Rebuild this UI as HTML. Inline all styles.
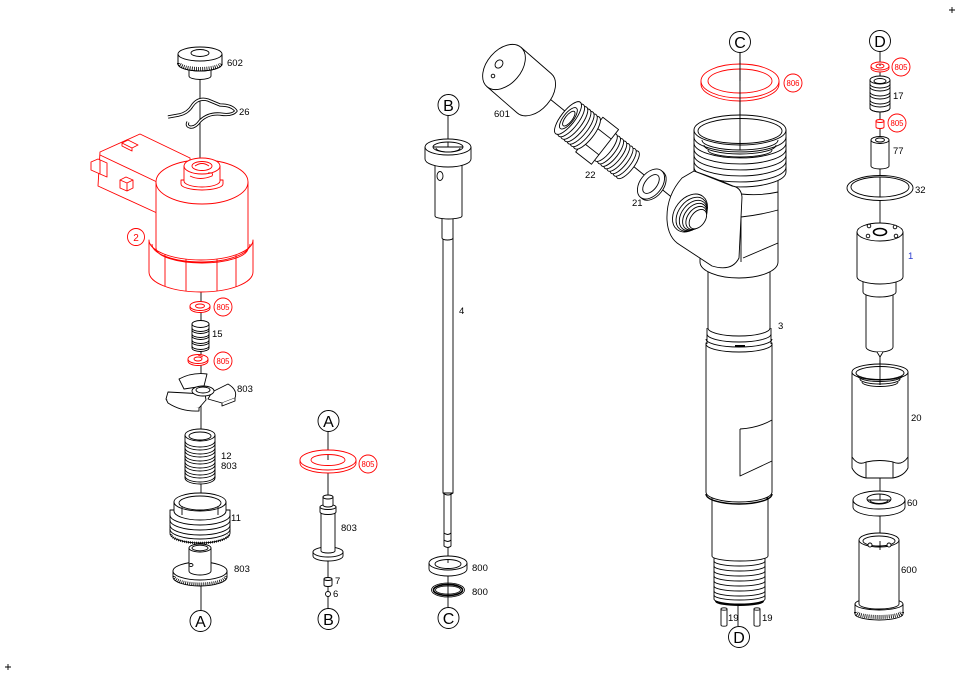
<!DOCTYPE html>
<html><head><meta charset="utf-8"><title>Injector exploded view</title>
<style>
html,body{margin:0;padding:0;background:#fff;width:960px;height:678px;overflow:hidden}
svg{display:block}
text{font-family:"Liberation Sans",Arial,sans-serif;font-size:9.5px;fill:#000;stroke:none}
.L{font-size:16px;text-anchor:middle}
.rc{font-size:8.5px;fill:#f00;text-anchor:middle}
</style></head><body>
<svg width="960" height="678" viewBox="0 0 960 678" xmlns="http://www.w3.org/2000/svg">
<g fill="none" stroke="#000" stroke-width="0.9" stroke-linejoin="round">

<!-- corner marks -->
<path d="M949,10 H955 M952,7 V13 M5,667 H11 M8,664 V670"/>

<!-- axis lines -->
<path d="M200,76 V170 M201,290 V610 M328,432 V609 M448,116 V150 M448,540 V607 M740,53 V135 M738,600 V626 M880,52 V375 M880,470 V560 M545,95 L690,212"/>

<!-- ================= COLUMN 1 ================= -->
<!-- 602 knob -->
<path d="M189,68 V76 A11,3.5 0 0 0 211,76 V68 Z" fill="#fff"/>
<path d="M178,54 V64 A22,7 0 0 0 222,64 V54 Z" fill="#fff"/>
<path d="M179,63 A21,6 0 0 0 221,63" stroke-width="4" stroke-dasharray="0.8 1.3"/>
<path d="M178,54 V64 A22,7 0 0 0 222,64 V54"/>
<ellipse cx="200" cy="54" rx="22" ry="7" fill="#fff"/>
<ellipse cx="200" cy="53" rx="9" ry="3.5"/>

<!-- 26 clip -->
<path d="M168,117 L179,115 Q188,113 192,106 Q198,97 208,100 L220,105 Q232,105 236,111 Q232,116 220,114 Q208,113 200,121 Q195,128 190,127 Q186,126 188,122" stroke-width="3.2"/>
<path d="M168,117 L179,115 Q188,113 192,106 Q198,97 208,100 L220,105 Q232,105 236,111 Q232,116 220,114 Q208,113 200,121 Q195,128 190,127 Q186,126 188,122" stroke="#fff" stroke-width="1.4"/>

<!-- solenoid (red) -->
<g stroke="#f00" fill="#fff">
  <path d="M100,152 L140,134 L190,158 L190,200 L157,213 L98,186 Z"/>
  <path d="M100,155 L157,182" fill="none"/>
  <path d="M91,162 L98,159 L107,163 L107,177 L100,174 L91,170 Z"/>
  <path d="M100,174 V160" fill="none"/>
  <path d="M122,143 L128,140 L138,145 L132,148 Z M122,143 V146 L132,151 V148" />
  <path d="M120,180 L126,177 L133,180 L133,188 L127,191 L120,188 Z M120,180 L127,183 L133,180 M127,183 V191"/>
  <!-- cylinder -->
  <path d="M156,182 V250 A46,16 0 0 0 248,250 V182 Z"/>
  <ellipse cx="202" cy="182" rx="46" ry="22"/>
  <!-- nut -->
  <path d="M149,240 A52,20 0 0 0 253,240 V272 A52,20 0 0 1 149,272 Z"/>
  <path d="M152,244 A49,18 0 0 0 250,244 M156,248 A46,15 0 0 0 248,248" fill="none"/>
  <path d="M165,254 V286 M186,259 V291 M217,259 V291 M236,255 V287" fill="none"/>
  <!-- boss -->
  <path d="M181,180 V184 A21,6 0 0 0 223,184 V180 Z"/>
  <path d="M184,166 V181 A18,6 0 0 0 220,181 V166 Z"/>
  <ellipse cx="202" cy="166" rx="18" ry="8"/>
  <ellipse cx="202" cy="166" rx="10" ry="4.5"/>
  <path d="M195,166 Q202,161 209,166 M190,176 Q200,181 212,176 Q214,172 208,173" fill="none"/>
  <circle cx="136" cy="237" r="8.5"/>
</g>
<text x="136" y="241" class="rc" style="font-size:10px">2</text>

<!-- 805 washers -->
<g stroke="#f00">
  <path d="M190,306 V308 A10,4.5 0 0 0 210,308 V306" fill="#fff"/>
  <ellipse cx="200" cy="306" rx="10" ry="4.5" fill="#fff"/>
  <ellipse cx="200" cy="306" rx="4.5" ry="2"/>
  <circle cx="223" cy="307" r="9" fill="#fff"/>
  <path d="M188,359 V361 A10,4.5 0 0 0 208,361 V359" fill="#fff"/>
  <ellipse cx="198" cy="359" rx="10" ry="4.5" fill="#fff"/>
  <ellipse cx="198" cy="359" rx="4" ry="2"/>
  <path d="M198,355 L203,357"/>
  <circle cx="223" cy="361" r="9" fill="#fff"/>
</g>
<text x="223" y="310" class="rc" textLength="13" lengthAdjust="spacingAndGlyphs">805</text>
<text x="223" y="364" class="rc" textLength="13" lengthAdjust="spacingAndGlyphs">805</text>

<!-- spring 15 -->
<g fill="#fff">
  <path d="M192,324 V348 A8.5,3.5 0 0 0 209,348 V324 Z"/>
  <ellipse cx="200.5" cy="324" rx="8.5" ry="3.5"/>
  <path d="M192,330 A8.5,3.5 0 0 0 209,330 M192,336 A8.5,3.5 0 0 0 209,336 M192,342 A8.5,3.5 0 0 0 209,342 M192,328 A8.5,3.5 0 0 0 209,328 M192,334 A8.5,3.5 0 0 0 209,334 M192,340 A8.5,3.5 0 0 0 209,340 M192,346 A8.5,3.5 0 0 0 209,346" fill="none"/>
</g>

<!-- 803 propeller -->
<g fill="#fff">
  <path d="M184,389 L179,379 Q192,372 207,374 L204,386 Z"/>
  <path d="M212,392 L228,384 Q238,390 235,398 L222,403 L208,399 Z"/>
  <path d="M205,394 L168,392 L166,399 Q180,408 199,408 L206,400 Z"/>
  <path d="M166,399 L168,403 Q182,412 199,411 L199,408" />
  <path d="M222,403 L222,406 L235,401 V398"/>
  <ellipse cx="203" cy="391" rx="11" ry="5"/>
  <ellipse cx="203" cy="390" rx="7" ry="3"/>
</g>

<!-- spring 12 -->
<g fill="#fff">
  <path d="M185,435 V478 A15,6 0 0 0 215,478 V435 Z"/>
  <ellipse cx="200" cy="435" rx="15" ry="6"/>
  <ellipse cx="200" cy="436" rx="11" ry="4"/>
  <path d="M185,441 A15,6 0 0 0 215,441 M185,444 A15,6 0 0 0 215,444 M185,448 A15,6 0 0 0 215,448 M185,451 A15,6 0 0 0 215,451 M185,455 A15,6 0 0 0 215,455 M185,458 A15,6 0 0 0 215,458 M185,462 A15,6 0 0 0 215,462 M185,465 A15,6 0 0 0 215,465 M185,469 A15,6 0 0 0 215,469 M185,472 A15,6 0 0 0 215,472 M185,476 A15,6 0 0 0 215,476" fill="none"/>
</g>

<!-- 11 ring -->
<g fill="#fff">
  <path d="M170,510 V533 A30,10 0 0 0 230,533 V510 Z"/>
  <path d="M170,515 A30,10 0 0 0 230,515 M170,520 A30,10 0 0 0 230,520 M170,525 A30,10 0 0 0 230,525 M170,529 A30,10 0 0 0 230,529" fill="none"/>
  <path d="M171,534 A29,9 0 0 0 229,534" stroke-width="2.5" stroke-dasharray="0.8 1.2" fill="none"/>
  <path d="M174,502 V511 A26,9 0 0 0 226,511 V502 Z"/>
  <ellipse cx="200" cy="502" rx="26" ry="9"/>
  <ellipse cx="200" cy="503" rx="21" ry="7"/>
  <path d="M182,506 V515 M218,506 V515" fill="none"/>
</g>

<!-- 803 disk -->
<g fill="#fff">
  <path d="M173,571 V577 A27,9 0 0 0 227,577 V571 Z"/>
  <path d="M174,576 A26,8 0 0 0 226,576" stroke-width="3" stroke-dasharray="0.8 1.2" fill="none"/>
  <ellipse cx="200" cy="571" rx="27" ry="9"/>
  <path d="M189,548 V571 A11,4 0 0 0 211,571 V548 Z"/>
  <ellipse cx="200" cy="548" rx="11" ry="4"/>
  <ellipse cx="200" cy="548" rx="8" ry="2.8"/>
  <ellipse cx="191" cy="565" rx="2" ry="1.5"/>
</g>

<circle cx="200.5" cy="621" r="10.5" fill="#fff"/>
<text x="200.5" y="627" class="L">A</text>

<!-- ================= COLUMN 2 ================= -->
<circle cx="328.5" cy="421" r="10.5" fill="#fff"/>
<text x="328.5" y="427" class="L">A</text>
<g stroke="#f00" fill="#fff">
  <path d="M300,460 V463 A28,10 0 0 0 356,463 V460"/>
  <path fill-rule="evenodd" d="M300,460 A28,10 0 1 0 356,460 A28,10 0 1 0 300,460 Z M311,460 A17,5.5 0 1 0 345,460 A17,5.5 0 1 0 311,460 Z"/>
  <circle cx="368" cy="464" r="9"/>
</g>
<text x="368" y="467" class="rc" textLength="13" lengthAdjust="spacingAndGlyphs">805</text>
<g fill="#fff">
  <path d="M313,552 V556 A15,5 0 0 0 343,556 V552 Z"/>
  <ellipse cx="328" cy="552" rx="15" ry="5"/>
  <path d="M321,512 V551 A7,2 0 0 0 335,551 V512 Z"/>
  <path d="M320,507 V512 A8,2.5 0 0 0 336,512 V507 Z"/>
  <ellipse cx="328" cy="507" rx="8" ry="2.5"/>
  <path d="M323,497 V505 A5,2 0 0 0 333,505 V497 Z"/>
  <ellipse cx="328" cy="497" rx="5" ry="2"/>
  <path d="M324,579 V585 A4,1.5 0 0 0 332,585 V579 Z"/>
  <ellipse cx="328" cy="579" rx="4" ry="1.5"/>
  <circle cx="328" cy="594" r="2.5"/>
</g>
<circle cx="328.5" cy="619" r="10.5" fill="#fff"/>
<text x="328.5" y="625" class="L">B</text>

<!-- ================= COLUMN 3 ================= -->
<circle cx="448.5" cy="105" r="10.5" fill="#fff"/>
<text x="448.5" y="111" class="L">B</text>
<g fill="#fff">
  <path d="M443,238 V493 H453 V238 Z"/>
  <path d="M442,218 V238 A5.5,2 0 0 0 453,238 V218 Z"/>
  <path d="M435,160 V216 A13.5,3 0 0 0 462,216 V160 Z"/>
  <ellipse cx="440" cy="176" rx="3" ry="4.5"/>
  <path d="M425,147 V159 A23,8 0 0 0 471,159 V147 Z"/>
  <path fill-rule="evenodd" d="M425,147 A23,8 0 1 0 471,147 A23,8 0 1 0 425,147 Z M433,147 A15,5 0 1 0 463,147 A15,5 0 1 0 433,147 Z"/>
  <path d="M436,148 A12,4 0 0 0 460,148" fill="none"/>
  <path d="M444,493 V546 Q448,549 451,546 V493 Z"/>
  <path d="M443,493 Q448,497 453,493 M444,533 Q448,536 451,533 M444,540 Q448,543 451,540" fill="none"/>
  <path d="M429,563 V569 A19,7 0 0 0 467,569 V563"/>
  <path fill-rule="evenodd" d="M429,563 A19,7 0 1 0 467,563 A19,7 0 1 0 429,563 Z M435,564 A13,4.5 0 1 0 461,564 A13,4.5 0 1 0 435,564 Z"/>
</g>
<ellipse cx="448" cy="590" rx="16.5" ry="7" stroke-width="0.8"/>
<ellipse cx="448" cy="590" rx="14.5" ry="5.5" stroke-width="1.7"/>
<ellipse cx="448" cy="590" rx="12.5" ry="4" stroke-width="0.8"/>
<circle cx="448.5" cy="618" r="10.5" fill="#fff"/>
<text x="448.5" y="624" class="L">C</text>

<!-- ================= 601 / 22 / 21 ================= -->
<g transform="translate(504,67) rotate(41)" fill="#fff">
  <path d="M0,-26 H40 A17,26 0 0 1 40,26 H0 Z"/>
  <ellipse cx="0" cy="0" rx="17" ry="26"/>
</g>
<ellipse cx="499" cy="64" rx="3.5" ry="4.5" transform="rotate(41 499 64)"/>
<circle cx="493" cy="76" r="1.8"/>

<g transform="translate(568,118) rotate(38)" fill="#fff">
  <ellipse cx="76" cy="0" rx="6" ry="17"/>
  <ellipse cx="72" cy="0" rx="6" ry="17"/>
  <ellipse cx="68" cy="0" rx="6" ry="17"/>
  <ellipse cx="64" cy="0" rx="6" ry="17"/>
  <ellipse cx="60" cy="0" rx="6" ry="17"/>
  <ellipse cx="56" cy="0" rx="6" ry="17"/>
  <ellipse cx="52" cy="0" rx="6" ry="17"/>
  <ellipse cx="48" cy="0" rx="6" ry="17"/>
  <path d="M27,-22 H47 V22 H27 Z"/>
  <path d="M27,-10 H47 M27,10 H47" fill="none"/>
  <ellipse cx="24" cy="0" rx="7" ry="20"/>
  <ellipse cx="20" cy="0" rx="7" ry="20"/>
  <ellipse cx="16" cy="0" rx="7" ry="20"/>
  <ellipse cx="12" cy="0" rx="7" ry="20"/>
  <ellipse cx="8" cy="0" rx="7" ry="20"/>
  <ellipse cx="4" cy="0" rx="7" ry="20"/>
  <ellipse cx="0" cy="0" rx="7" ry="20"/>
  <ellipse cx="0.5" cy="0" rx="5" ry="13"/>
  <ellipse cx="1" cy="0" rx="3.5" ry="9"/>
</g>

<g transform="rotate(38 651 184)">
  <ellipse cx="653" cy="184" rx="11" ry="17" fill="#fff"/>
  <path fill="#fff" fill-rule="evenodd" d="M640,184 A11,17 0 1 0 662,184 A11,17 0 1 0 640,184 Z M645,184 A6,11 0 1 0 657,184 A6,11 0 1 0 645,184 Z"/>
</g>

<!-- ================= BODY 3 ================= -->
<circle cx="740" cy="42" r="10.5" fill="#fff"/>
<text x="740" y="48" class="L">C</text>
<g stroke="#f00" fill="#fff">
  <path d="M701,81 V84 A39,17 0 0 0 779,84 V81"/>
  <path fill-rule="evenodd" d="M701,81 A39,17 0 1 0 779,81 A39,17 0 1 0 701,81 Z M708,81 A32,12 0 1 0 772,81 A32,12 0 1 0 708,81 Z"/>
  <circle cx="793" cy="83" r="9"/>
</g>
<text x="793" y="86" class="rc" textLength="13" lengthAdjust="spacingAndGlyphs">806</text>

<g fill="#fff">
  <!-- thread bottom -->
  <path d="M714,556 V599 A25.5,5 0 0 0 765,599 V556 Z"/>
  <path d="M714,561 A25.5,5 0 0 0 765,561 M714,566 A25.5,5 0 0 0 765,566 M714,571 A25.5,5 0 0 0 765,571 M714,576 A25.5,5 0 0 0 765,576 M714,581 A25.5,5 0 0 0 765,581 M714,586 A25.5,5 0 0 0 765,586 M714,591 A25.5,5 0 0 0 765,591 M714,595 A25.5,5 0 0 0 765,595" fill="none"/>
  <path d="M716,601 A23.5,4 0 0 0 763,601" stroke-width="2" fill="none"/>
  <!-- lower section -->
  <path d="M712,498 V556 A28,5 0 0 0 768,556 V498 Z"/>
  <!-- main shaft -->
  <path d="M706,343 V492 A33,10 0 0 0 772,492 V343 Z"/>
  <path d="M706,494 A33,10 0 0 0 772,494" fill="none" stroke-width="1.4"/>
  <path d="M740,429 Q758,428 772,420 M740,429 V476 L772,461" fill="none"/>
  <!-- groove + upper shaft -->
  <path d="M707,326 V344 H771 V326 Z" stroke="none"/>
  <path d="M708,268 V328 A31,8 0 0 0 770,328 V268 Z"/>
  <path d="M707,328 V344 M771,328 V344" fill="none"/>
  <path d="M707,334 A32,8 0 0 0 771,334 M706,339 A33,8 0 0 0 772,339 M706,344 A33,8 0 0 0 772,344" fill="none"/>
  <path d="M735,346 H745" stroke-width="2" fill="none"/>
  <!-- middle body -->
  <path d="M700,176 V262 A39,16 0 0 0 778,262 V176 Z"/>
  <path d="M741,193 V262 M741,194 Q760,196 778,192 M741,217 Q760,215 778,210 M743,258 L778,243" fill="none"/>
  <!-- top thread -->
  <path d="M694,130 V172 A46,15 0 0 0 786,172 V130 Z"/>
  <path d="M694,137 A46,15 0 0 0 786,137 M694,143 A46,15 0 0 0 786,143 M694,149 A46,15 0 0 0 786,149 M694,155 A46,15 0 0 0 786,155 M694,161 A46,15 0 0 0 786,161 M694,167 A46,15 0 0 0 786,167" fill="none"/>
  <ellipse cx="740" cy="130" rx="46" ry="15"/>
  <ellipse cx="740" cy="131" rx="42" ry="12.5"/>
  <path d="M702,140 A38,10 0 0 0 778,140 M704,145 A36,9 0 0 0 776,145 M708,150 A32,7 0 0 0 772,150" fill="none"/>
  <path d="M740,53 V150" fill="none"/>
  <!-- boss -->
  <path d="M694,171 L682,178 Q666,196 667,220 Q668,238 680,245 L712,266 Q732,272 739,258 L742,197 Q741,187 732,186 Z"/>
  <path d="M694,171 Q715,178 733,186" fill="none"/>
  <g transform="rotate(38 690 213)">
    <ellipse cx="690" cy="213" rx="15" ry="21"/>
    <ellipse cx="692" cy="213" rx="13" ry="19"/>
    <ellipse cx="694" cy="213" rx="11.5" ry="17"/>
    <ellipse cx="696" cy="213" rx="10" ry="15"/>
    <ellipse cx="698" cy="213" rx="8.5" ry="13"/>
    <ellipse cx="700" cy="213" rx="7" ry="11"/>
  </g>
  <!-- pins 19 -->
  <path d="M721,609 V625 A3,1.2 0 0 0 727,625 V609 Z"/>
  <ellipse cx="724" cy="609" rx="3" ry="1.2"/>
  <path d="M754,609 V625 A3,1.2 0 0 0 760,625 V609 Z"/>
  <ellipse cx="757" cy="609" rx="3" ry="1.2"/>
</g>
<circle cx="739" cy="637" r="10.5" fill="#fff"/>
<text x="739" y="643" class="L">D</text>

<!-- ================= COLUMN 5 ================= -->
<circle cx="880" cy="41" r="10.5" fill="#fff"/>
<text x="880" y="47" class="L">D</text>
<g stroke="#f00" fill="#fff">
  <path d="M871,66 V68 A9,4 0 0 0 889,68 V66"/>
  <path fill-rule="evenodd" d="M871,66 A9,4 0 1 0 889,66 A9,4 0 1 0 871,66 Z M876,66 A4,2 0 1 0 884,66 A4,2 0 1 0 876,66 Z"/>
  <circle cx="901" cy="67" r="9"/>
  <path d="M876,121 V127 A4,1.5 0 0 0 884,127 V121 Z"/>
  <ellipse cx="880" cy="121" rx="4" ry="1.5"/>
  <circle cx="897" cy="123" r="9"/>
</g>
<text x="901" y="70" class="rc" textLength="13" lengthAdjust="spacingAndGlyphs">805</text>
<text x="897" y="126" class="rc" textLength="13" lengthAdjust="spacingAndGlyphs">805</text>

<!-- spring 17 -->
<g fill="#fff">
  <path d="M870,80 V108 A10,4 0 0 0 890,108 V80 Z"/>
  <ellipse cx="880" cy="80" rx="10" ry="4"/>
  <ellipse cx="880" cy="81" rx="6" ry="2.5"/>
  <path d="M870,84 A10,4 0 0 0 890,84 M870,87 A10,4 0 0 0 890,87 M870,92 A10,4 0 0 0 890,92 M870,95 A10,4 0 0 0 890,95 M870,100 A10,4 0 0 0 890,100 M870,103 A10,4 0 0 0 890,103 M870,108 A10,4 0 0 0 890,108" fill="none"/>
  <!-- pin 77 -->
  <path d="M871,140 V166 A9,3 0 0 0 889,166 V140 Z"/>
  <ellipse cx="880" cy="140" rx="9" ry="3.5"/>
  <ellipse cx="880" cy="140" rx="4.5" ry="2"/>
</g>
<!-- O-ring 32 -->
<path fill="#fff" fill-rule="evenodd" d="M847,188 A33,12.5 0 1 0 913,188 A33,12.5 0 1 0 847,188 Z M851,187 A29,10 0 1 0 909,187 A29,10 0 1 0 851,187 Z"/>

<!-- nozzle 1 -->
<g fill="#fff">
  <path d="M866,290 V347 A13.5,5 0 0 0 893,347 V290 Z"/>
  <path d="M877,352 L880,357 L883,352" />
  <path d="M863,280 V292 A16.5,5 0 0 0 896,292 V280 Z"/>
  <path d="M857,232 V277 A23,7 0 0 0 903,277 V232 Z"/>
  <ellipse cx="880" cy="232" rx="23" ry="9"/>
  <ellipse cx="880" cy="232" rx="6.5" ry="3.5" stroke-width="1.6"/>
  <circle cx="869" cy="226" r="1.8"/>
  <circle cx="895" cy="227" r="1.8"/>
  <circle cx="868" cy="236" r="1.8"/>
  <circle cx="896" cy="236" r="1.8"/>
</g>

<!-- nut 20 -->
<g fill="#fff">
  <path d="M852,372 V468 Q856,476 866,478 H893 Q904,476 908,468 V372 Z"/>
  <path d="M852,457 Q858,466 866,462 Q880,459 893,462 Q902,466 908,457 M866,462 V478 M893,462 V478" fill="none"/>
  <ellipse cx="880" cy="372" rx="28" ry="8"/>
  <ellipse cx="880" cy="373" rx="24" ry="6.5"/>
  <path d="M858,376 A22,5.5 0 0 0 902,376 M860,379 A20,5 0 0 0 900,379 M862,382 A18,4.5 0 0 0 898,382" fill="none"/>
  <path d="M880,360 V385" fill="none"/>
</g>

<!-- washer 60 -->
<g fill="#fff">
  <path d="M853,500 V507 A26,9 0 0 0 905,507 V500 Z"/>
  <path fill-rule="evenodd" d="M853,500 A26,9 0 1 0 905,500 A26,9 0 1 0 853,500 Z M867,499 A12,5 0 1 0 891,499 A12,5 0 1 0 867,499 Z"/>
  <path d="M870,500 A9,3.5 0 0 0 888,500" fill="none"/>
</g>

<!-- cylinder 600 -->
<g fill="#fff">
  <path d="M855,604 V614 A24,6 0 0 0 903,614 V604 Z"/>
  <path d="M856,612 A23,5 0 0 0 902,612" stroke-width="4" stroke-dasharray="0.8 1.2" fill="none"/>
  <ellipse cx="879" cy="604" rx="24" ry="6"/>
  <path d="M859,540 V604 A20,5 0 0 0 899,604 V540 Z"/>
  <ellipse cx="879" cy="540" rx="20" ry="7"/>
  <ellipse cx="879" cy="541" rx="16" ry="5"/>
  <path d="M880,541 V550" fill="none"/>
  <circle cx="870" cy="545" r="2"/>
  <circle cx="889" cy="545" r="2"/>
</g>

</g>

<!-- labels -->
<text x="227" y="66">602</text>
<text x="239" y="115">26</text>
<text x="212" y="337">15</text>
<text x="237" y="392">803</text>
<text x="221" y="459">12</text>
<text x="221" y="469">803</text>
<text x="231" y="521">11</text>
<text x="234" y="572">803</text>
<text x="341" y="531">803</text>
<text x="335" y="584">7</text>
<text x="333" y="597">6</text>
<text x="459" y="314">4</text>
<text x="472" y="571">800</text>
<text x="472" y="595">800</text>
<text x="494" y="117">601</text>
<text x="585" y="178">22</text>
<text x="632" y="206">21</text>
<text x="778" y="329">3</text>
<text x="728" y="621">19</text>
<text x="762" y="621">19</text>
<text x="893" y="99">17</text>
<text x="893" y="154">77</text>
<text x="915" y="193">32</text>
<text x="908" y="259" style="fill:#2a3bd0">1</text>
<text x="911" y="421">20</text>
<text x="907" y="506">60</text>
<text x="901" y="573">600</text>
</svg>
</body></html>
